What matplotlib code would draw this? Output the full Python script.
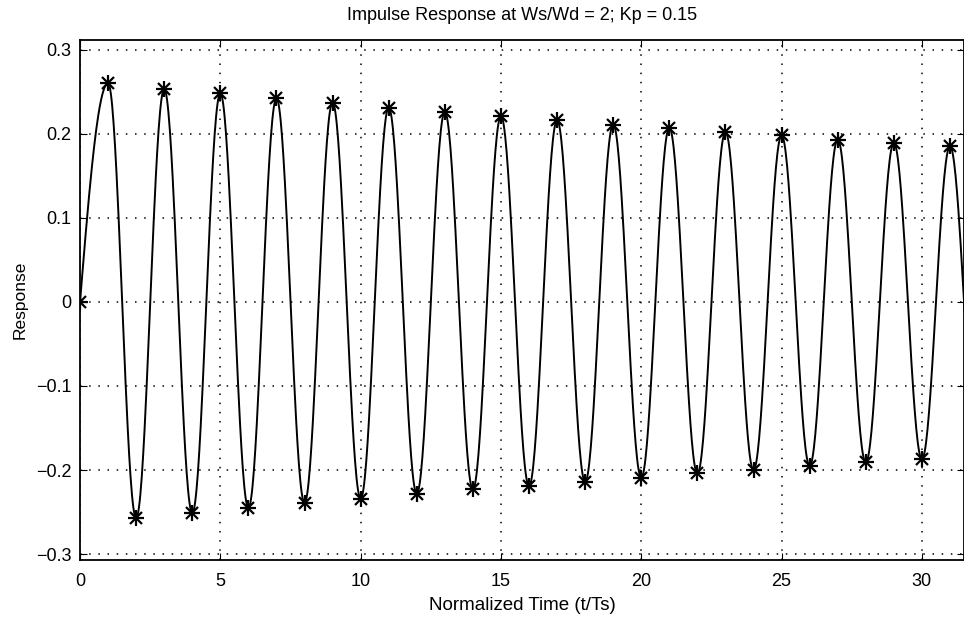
import numpy as np
import matplotlib
matplotlib.use('Agg')
import matplotlib.pyplot as plt

plt.rcParams['font.family'] = ['Liberation Sans', 'DejaVu Sans']

# sampled impulse response (one value per sample period)
sample_t = list(range(33))
sample_y = [0.0, 0.260, -0.257, 0.253, -0.251, 0.248, -0.245, 0.242, -0.239,
            0.237, -0.234, 0.231, -0.228, 0.226, -0.223, 0.221, -0.219,
            0.216, -0.214, 0.211, -0.209, 0.207, -0.204, 0.202, -0.200,
            0.198, -0.195, 0.193, -0.191, 0.189, -0.187, 0.185, -0.183]

x_ticks = [0, 5, 10, 15, 20, 25, 30]
y_ticks = [-0.3, -0.2, -0.1, 0, 0.1, 0.2, 0.3]
y_tick_labels = ['\u22120.3', '\u22120.2', '\u22120.1', '0', '0.1', '0.2', '0.3']


def smooth_curve(t, y, n=40):
    # draw the continuous response through the samples (half-cosine between extrema)
    xs, ys = [], []
    for k in range(len(t) - 1):
        s = np.linspace(0, 1, n, endpoint=False)
        a, b = y[k], y[k + 1]
        if k == 0:
            seg = b * np.sin(np.pi * s / 2)
        else:
            seg = a + (b - a) * (1 - np.cos(np.pi * s)) / 2
        xs.append(t[k] + s)
        ys.append(seg)
    xs.append([t[-1]])
    ys.append([y[-1]])
    return np.concatenate(xs), np.concatenate(ys)


fig = plt.figure(figsize=(9.64, 6.2), dpi=100)
ax = fig.add_axes([0.083, 0.096, 0.917, 0.840])

cx, cy = smooth_curve(sample_t, sample_y)
ax.plot(cx, cy, color='black', linewidth=1.4)
# MATLAB-style asterisk: plus + cross
for m, ms in [('+', 11), ('x', 8.5)]:
    ax.plot(sample_t, sample_y, linestyle='none', marker=m, markersize=ms,
            color='black', markeredgewidth=1.6)

ax.set_xlim(0, 31.5)
ax.set_ylim(-0.3076, 0.3119)
ax.set_xticks(x_ticks)
ax.set_yticks(y_ticks)
ax.set_yticklabels(y_tick_labels)
ax.tick_params(direction='in', top=True, right=True, labelsize=13, length=5)
ax.tick_params(axis='x', pad=9)
ax.tick_params(axis='y', pad=6)
ax.grid(True, color='black', linestyle=(0, (1, 5)), linewidth=1.1)
for sp in ax.spines.values():
    sp.set_linewidth(1.3)

ax.set_title('Impulse Response at Ws/Wd = 2; Kp = 0.15', fontsize=13, pad=14)
ax.set_xlabel('Normalized Time (t/Ts)', fontsize=13.5, labelpad=5)
ax.set_ylabel('Response', fontsize=12.5, labelpad=6)

fig.savefig('out.png', dpi=100)
